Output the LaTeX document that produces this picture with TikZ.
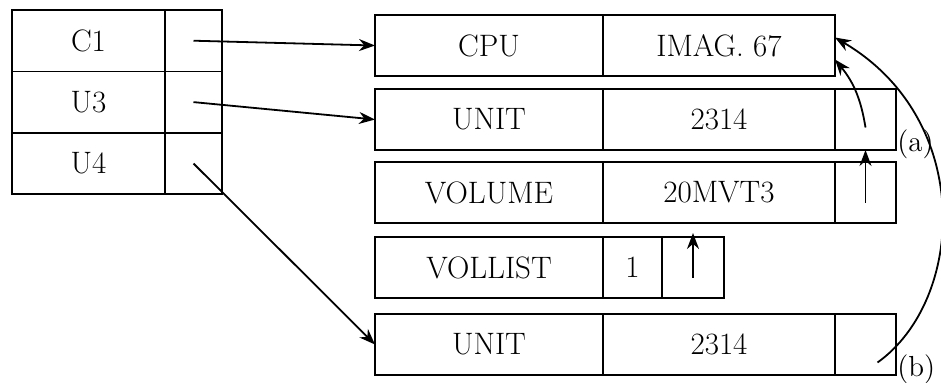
\documentclass[tikz,border=0pt]{standalone}
\usetikzlibrary{arrows.meta,positioning}
\tikzset{
  cell/.style={draw, line width=0.9pt, inner sep=0pt, outer sep=0pt, anchor=north west,
    minimum height=30.5pt, font=\fontsize{15.5}{18}\selectfont},
  tabname/.style={cell, minimum width=76.5pt, minimum height=30.7pt},
  tabptr/.style={cell, minimum width=28.5pt, minimum height=30.7pt},
  namecell/.style={cell, minimum width=114pt},
  valcell/.style={cell, minimum width=116pt},
  ptrcell/.style={cell, minimum width=30.5pt},
  ptr/.style={line width=0.9pt, -{Stealth[length=8pt,width=6pt]}},
  tag/.style={anchor=west, inner sep=0.5pt, font=\fontsize{14.5}{17}\selectfont}
}
\begin{document}
\begin{tikzpicture}[x=0.5pt,y=-0.5pt]
    \useasboundingbox (0,0) rectangle (941,382);
    % left table
    \node[tabname] (c1) at (12,10) {C1};
    \node[tabptr] (c1p) at (c1.north east) {};
    \node[tabname] (u3) at (c1.south west) {U3};
    \node[tabptr] (u3p) at (u3.north east) {};
    \node[tabname] (u4) at (u3.south west) {U4};
    \node[tabptr] (u4p) at (u4.north east) {};
    % records
    \node[namecell] (cpu) at (375,15) {CPU};
    \node[valcell] (imag) at (cpu.north east) {IMAG. 67};
    \node[namecell] (unita) at (375,89) {UNIT};
    \node[valcell] (unitav) at (unita.north east) {2314};
    \node[ptrcell] (unitap) at (unitav.north east) {};
    \node[namecell] (vol) at (375,162) {VOLUME};
    \node[valcell] (volv) at (vol.north east) {20MVT3};
    \node[ptrcell] (volp) at (volv.north east) {};
    \node[namecell] (vollist) at (375,237) {VOLLIST};
    \node[ptrcell, minimum width=29.5pt] (vlnum) at (vollist.north east) {1};
    \node[ptrcell, minimum width=31pt] (vlp) at (vlnum.north east) {};
    \node[namecell] (unitb) at (375,314) {UNIT};
    \node[valcell] (unitbv) at (unitb.north east) {2314};
    \node[ptrcell] (unitbp) at (unitbv.north east) {};
    \node[tag] (taga) at ([yshift=3pt]unitap.south east) {(a)};
    \node[tag] (tagb) at ([yshift=3pt]unitbp.south east) {(b)};
    % pointers
    \draw[ptr] (c1p.center) -- (cpu.west);
    \draw[ptr] (u3p.center) -- (unita.west);
    \draw[ptr] (u4p.center) -- (unitb.west);
    \draw[ptr] ([yshift=-4pt]unitap.center) to[bend right=15] ([yshift=-7pt]imag.east);
    \draw[ptr] ([yshift=-5pt]volp.center) -- (unitap.south);
    \draw[ptr] ([yshift=-5pt]vlp.center) -- ([yshift=-5pt]vlp.center |- volv.south);
    \draw[ptr] ([shift={(6pt,-9pt)}]unitbp.center) .. controls (965,300) and (975,120) .. ([yshift=4pt]imag.east);
\end{tikzpicture}
\end{document}
